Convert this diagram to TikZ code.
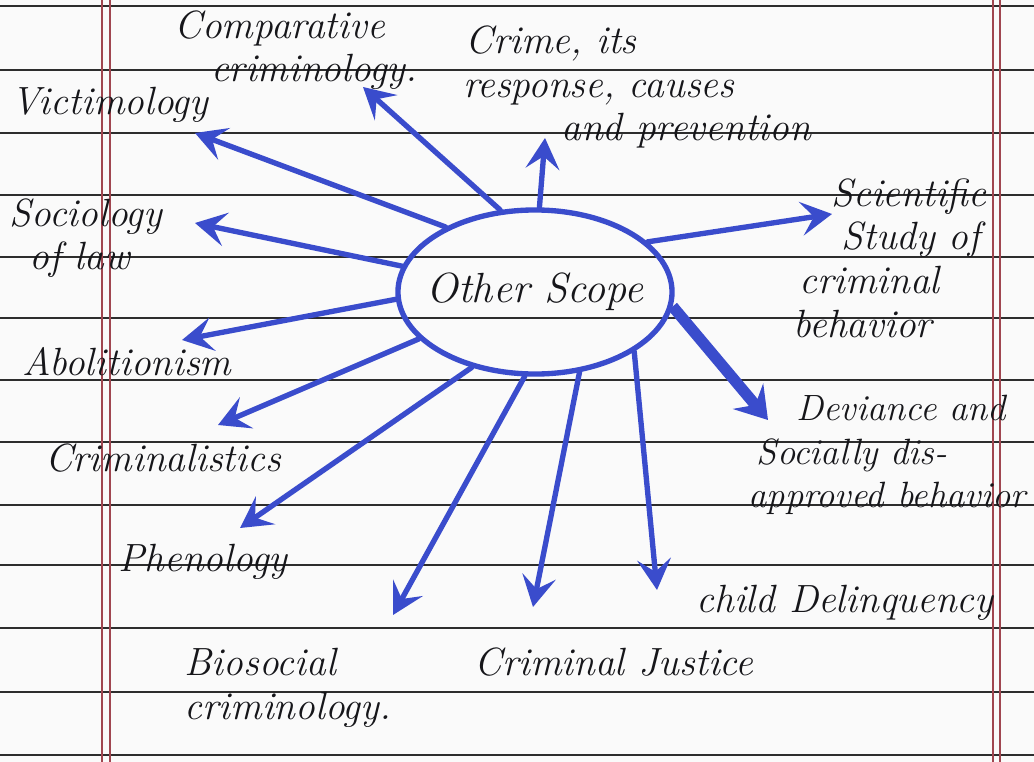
\documentclass[tikz,border=0pt]{standalone}
\usetikzlibrary{arrows.meta,shapes.geometric}
\definecolor{ink}{RGB}{58,76,204}
\definecolor{pen}{RGB}{22,22,26}
\definecolor{ruleline}{RGB}{45,45,45}
\definecolor{marginred}{RGB}{160,70,80}
\definecolor{paper}{RGB}{250,250,250}
\begin{document}
\begin{tikzpicture}[x=0.025cm,y=-0.025cm,
  lbl/.style={font=\fontsize{28}{31}\selectfont\itshape, text=pen, inner sep=0pt, align=left},
  arr/.style={draw=ink, line width=3.8pt, line cap=round, -{Stealth[length=22pt,width=24pt,inset=9pt]}},
  bigarr/.style={draw=ink, line width=8pt, -{Stealth[length=22pt,width=28pt,inset=8pt]}}]
\useasboundingbox (0,0) rectangle (1034,762);
\fill[paper] (0,0) rectangle (1034,762);
% ruled paper
\foreach \y in {6,70,133,195,257,318,380,442,505,565,628,692,755}
  \draw[ruleline, line width=1.1pt] (0,\y) -- (1034,\y);
\draw[marginred, line width=0.8pt] (102,0) -- (102,762) (110,0) -- (110,762)
  (993,0) -- (993,762) (1000,0) -- (1000,762);
% centre
\node[draw=ink, line width=3.8pt, ellipse, minimum width=6.85cm, minimum height=4.1cm,
  inner sep=0pt, font=\fontsize{30}{34}\selectfont\itshape, text=pen] (c) at (535,292) {\makebox[0pt]{Other Scope}};
% labels
\node[lbl] (comp) at (296,50) {Comparative\\\hspace*{26pt}criminology.};
\node[lbl] (crime) at (637,87) {\hspace*{2pt}Crime, its\\response, causes\\\hspace*{70pt}and prevention};
\node[lbl] (vict) at (110,105) {Victimology};
\node[lbl] (socio) at (86,238) {Sociology\\\hspace*{14pt}of law};
\node[lbl] (sci) at (890,258) {\hspace*{27pt}Scientific\\\hspace*{34pt}Study of\\\hspace*{4pt}criminal\\behavior};
\node[lbl] (abol) at (127,362) {Abolitionism};
\node[lbl] (crimst) at (163,458) {Criminalistics};
\node[lbl] (pheno) at (203,562) {Phenology};
\node[lbl] (bio) at (288,688) {Biosocial\\criminology.};
\node[lbl] (cj) at (614,662) {Criminal Justice};
\node[lbl] (child) at (845,603) {child Delinquency};
\node[lbl, font=\fontsize{26}{31}\selectfont\itshape] (dev) at (887,455) {\hspace*{34pt}Deviance and\\\hspace*{6pt}Socially dis-\\approved behavior};
% arrow tips
\coordinate (t1) at (363,87);
\coordinate (t2) at (195,133);
\coordinate (t3) at (545,138);
\coordinate (t4) at (832,214);
\coordinate (t5) at (195,223);
\coordinate (t6) at (182,340);
\coordinate (t7) at (218,425);
\coordinate (t8) at (240,528);
\coordinate (t9) at (393,615);
\coordinate (t10) at (533,607);
\coordinate (t11) at (657,590);
\coordinate (t12) at (768,420);
% arrows
\draw[arr] (c.113) -- (t1);
\draw[arr] (c.144) -- (t2);
\draw[arr] (c.87) -- (t3);
\draw[arr] (c.24) -- (t4);
\draw[arr] (c.169) -- (t5);
\draw[arr] (c.183) -- (t6);
\draw[arr] (c.202) -- (t7);
\draw[arr] (c.230) -- (t8);
\draw[arr] (c.263) -- (t9);
\draw[arr] (c.299) -- (t10);
\draw[arr] (c.329) -- (t11);
\draw[bigarr] (c.354) -- (t12);
\end{tikzpicture}
\end{document}
